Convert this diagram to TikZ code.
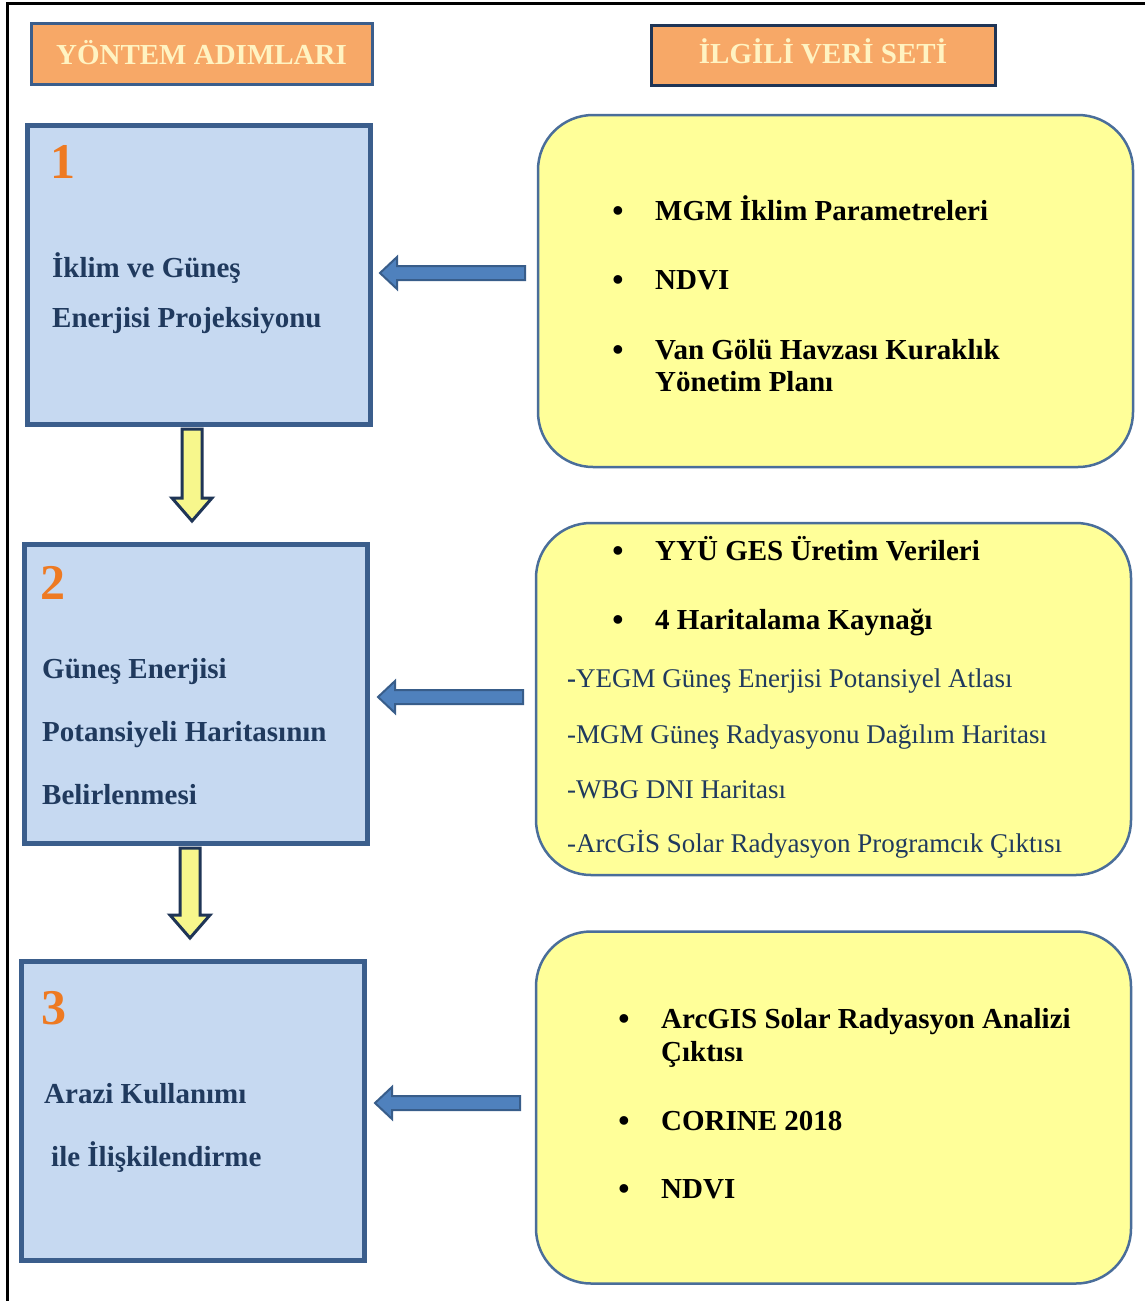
\documentclass[tikz,border=0pt]{standalone}
\usepackage{fontspec}
\setmainfont{Liberation Serif}
\usetikzlibrary{calc}
\definecolor{stepfill}{HTML}{C6D9F1}
\definecolor{stepline}{HTML}{3B5E8C}
\definecolor{datafill}{HTML}{FFFF99}
\definecolor{dataline}{HTML}{4A6E9A}
\definecolor{hdrfill}{HTML}{F7A867}
\definecolor{hdrtext}{HTML}{FFF3C2}
\definecolor{navytext}{HTML}{203A5E}
\definecolor{numorange}{HTML}{EE7A22}
\definecolor{arrowblue}{HTML}{4F81BD}
\definecolor{arrowline}{HTML}{385D8A}
\definecolor{arrowyellow}{HTML}{F7F78C}
\definecolor{arrowyline}{HTML}{1F3556}
\newcommand\leftblock[2]{%
  \draw[barrow] (#1) -- ++(17,-16) -- ++(0,9) -- ($(#2)+(0,-7)$) -- ($(#2)+(0,7)$)
    -- ($(#1)+(17,7)$) -- ++(0,9) -- cycle;}
\newcommand\downblock[2]{%
  \draw[yarrow] ($(#1)+(-10,0)$) -- ($(#2)+(-10,-23)$) -- ($(#2)+(-20,-23)$) -- (#2)
    -- ($(#2)+(20,-23)$) -- ($(#2)+(10,-23)$) -- ($(#1)+(10,0)$) -- cycle;}
\begin{document}
\begin{tikzpicture}[x=1pt,y=-1pt,
  stepbox/.style={draw=stepline, line width=5pt, fill=stepfill, minimum width=343pt, minimum height=299pt, inner sep=0pt},
  databox/.style={draw=dataline, line width=2.5pt, fill=datafill, rounded corners=55pt, minimum width=595pt, minimum height=352pt, inner sep=0pt},
  hdr/.style={fill=hdrfill, line width=3pt, text=hdrtext, font=\fontsize{29}{34}\selectfont\bfseries, inner sep=0pt},
  steptxt/.style={anchor=base west, text=navytext, font=\fontsize{29}{34}\selectfont\bfseries, inner sep=0pt},
  bold/.style={anchor=base west, text=black, font=\fontsize{29}{34}\selectfont\bfseries, inner sep=0pt},
  reg/.style={anchor=base west, text=navytext, font=\fontsize{27}{32}\selectfont, inner sep=0pt},
  bul/.style={anchor=base, text=black, font=\fontsize{32}{34}\selectfont\bfseries, inner sep=0pt},
  num/.style={text=numorange, font=\fontsize{50}{50}\selectfont\bfseries, inner sep=0pt},
  barrow/.style={fill=arrowblue, draw=arrowline, line width=2pt, line join=miter},
  yarrow/.style={fill=arrowyellow, draw=arrowyline, line width=3pt, line join=miter}]
\useasboundingbox (0,0) rectangle (1145,1301);
\fill[white] (0,0) rectangle (1145,1301);
% outer frame
\draw[line width=3pt] (7,1301) -- (7,3) -- (1145,3);

% headers
\node[hdr, draw=stepline, minimum width=341pt, minimum height=61pt] (h1) at (201.5,53.5) {\raisebox{2pt}{YÖNTEM ADIMLARI}};
\node[hdr, draw=arrowyline, minimum width=344pt, minimum height=60pt] (h2) at (823,55) {\raisebox{7pt}{İLGİLİ VERİ SETİ}};

% step boxes
\node[stepbox] (s1) at (198.5,274.5) {};
\node[stepbox] (s2) at (195.5,693.5) {};
\node[stepbox] (s3) at (192.5,1111) {};

\node[num] (n1) at (63,162) {1};
\node[num] (n2) at (53,583) {2};
\node[num] (n3) at (54,1008) {3};

\node[steptxt] (s1a) at (52,277) {İklim ve Güneş};
\node[steptxt] (s1b) at (52,327) {Enerjisi Projeksiyonu};
\node[steptxt] (s2a) at (42,678) {Güneş Enerjisi};
\node[steptxt] (s2b) at (42,741) {Potansiyeli Haritasının};
\node[steptxt] (s2c) at (42,804) {Belirlenmesi};
\node[steptxt] (s3a) at (44,1103) {Arazi Kullanımı};
\node[steptxt] (s3b) at (51,1166) {ile İlişkilendirme};

% data boxes
\node[databox] (d1) at (835.5,291) {};
\node[databox] (d2) at (833.5,699) {};
\node[databox] (d3) at (833.5,1107.5) {};

\node[bul] (b11) at (618,221) {•};
\node[bold] (d1a) at (655,220) {MGM İklim Parametreleri};
\node[bul] (b12) at (618,290) {•};
\node[bold] (d1b) at (655,289) {NDVI};
\node[bul] (b13) at (618,360) {•};
\node[bold] (d1c) at (655,359) {Van Gölü Havzası Kuraklık};
\node[bold] (d1d) at (655,391) {Yönetim Planı};

\node[bul] (b21) at (618,561) {•};
\node[bold] (d2a) at (655,560) {YYÜ GES Üretim Verileri};
\node[bul] (b22) at (618,630) {•};
\node[bold] (d2b) at (655,629) {4 Haritalama Kaynağı};
\node[reg] (d2c) at (567,687) {\textbf{-}YEGM Güneş Enerjisi Potansiyel Atlası};
\node[reg] (d2d) at (567,743) {-MGM Güneş Radyasyonu Dağılım Haritası};
\node[reg] (d2e) at (567,798) {-WBG DNI Haritası};
\node[reg] (d2f) at (567,852) {-ArcGİS Solar Radyasyon Programcık Çıktısı};

\node[bul] (b31) at (624,1029) {•};
\node[bold] (d3a) at (661,1028) {ArcGIS Solar Radyasyon Analizi};
\node[bold] (d3b) at (661,1061) {Çıktısı};
\node[bul] (b32) at (624,1131) {•};
\node[bold] (d3c) at (661,1130) {CORINE 2018};
\node[bul] (b33) at (624,1199) {•};
\node[bold] (d3d) at (661,1198) {NDVI};

% block arrows (data -> steps)
\coordinate (l1tip) at (380,273);  \coordinate (l1tail) at (525,273);
\coordinate (l2tip) at (378,697);  \coordinate (l2tail) at (523,697);
\coordinate (l3tip) at (375,1103); \coordinate (l3tail) at (520,1103);
\leftblock{l1tip}{l1tail}
\leftblock{l2tip}{l2tail}
\leftblock{l3tip}{l3tail}

% block arrows (step -> step)
\coordinate (v1top) at ($(s1.south)+(-6.5,2.5)$); \coordinate (v1tip) at (192,521);
\coordinate (v2top) at ($(s2.south)+(-5.5,2.5)$); \coordinate (v2tip) at (190,938);
\downblock{v1top}{v1tip}
\downblock{v2top}{v2tip}
\end{tikzpicture}
\end{document}
